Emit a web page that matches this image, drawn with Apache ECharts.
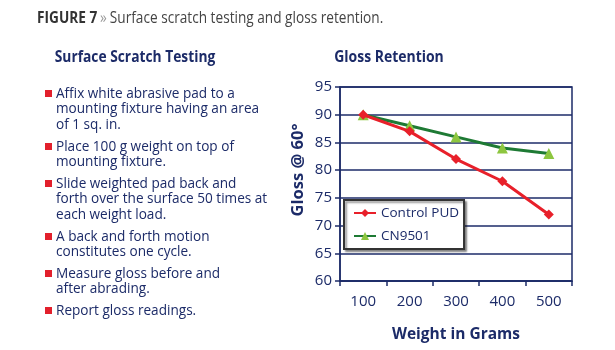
<!DOCTYPE html>
<html><head><meta charset="utf-8">
<script src="https://cdn.jsdelivr.net/npm/echarts@6/dist/echarts.min.js"></script>
<style>html,body{margin:0;padding:0;background:#fff}#c{width:615px;height:350px}</style>
</head><body><div id="c"></div>
<script>
const categories = ['100', '200', '300', '400', '500'];
const controlPUD = [90, 87, 82, 78, 72];
const cn9501 = [90, 88, 86, 84, 83];
const yTicks = [60, 65, 70, 75, 80, 85, 90, 95];
const bullets = [
  ['Affix white abrasive pad to a', 'mounting fixture having an area', 'of 1 sq. in.'],
  ['Place 100 g weight on top of', 'mounting fixture.'],
  ['Slide weighted pad back and', 'forth over the surface 50 times at', 'each weight load.'],
  ['A back and forth motion', 'constitutes one cycle.'],
  ['Measure gloss before and', 'after abrading.'],
  ['Report gloss readings.']
];
const bulletTops = [94, 147, 184, 237, 274, 311];

const NAVY = '#1c2b68';
const FONT = '"Open Sans", sans-serif';
const graphics = [];
graphics.push({type:'text', x:37, y:19, scaleX:0.88, style:{text:'{b|FIGURE 7} {g|»} {n|Surface scratch testing and gloss retention.}', verticalAlign:'middle', rich:{
  b:{font:'bold 15.5px '+FONT, fill:'#333'}, g:{font:'15.5px '+FONT, fill:'#999'}, n:{font:'15.5px '+FONT, fill:'#444'}}}});
graphics.push({type:'text', x:135, y:58, scaleX:0.89, style:{text:'Surface Scratch Testing', font:'bold 15.5px '+FONT, fill:NAVY, align:'center', verticalAlign:'middle'}});
graphics.push({type:'text', x:389, y:58, scaleX:0.9, style:{text:'Gloss Retention', font:'bold 15.5px '+FONT, fill:NAVY, align:'center', verticalAlign:'middle'}});
bullets.forEach((lines, i) => {
  const y0 = bulletTops[i];
  graphics.push({type:'rect', shape:{x:45, y:y0-4, width:7, height:7}, style:{fill:'#e2202c'}});
  lines.forEach((t, j) => {
    graphics.push({type:'text', x:56, y:y0 + j*15.5, style:{text:t, font:'13.6px '+FONT, fill:NAVY, verticalAlign:'middle'}});
  });
});
graphics.push({type:'text', x:298, y:170, rotation:Math.PI/2, style:{text:'Gloss @ 60°', font:'bold 16.5px '+FONT, fill:NAVY, align:'center', verticalAlign:'middle'}});

const chart = echarts.init(document.getElementById('c'));
chart.setOption({
  animation:false,
  textStyle:{fontFamily:FONT},
  graphic: graphics,
  grid:{left:340, right:43, top:87, height:194, show:true, borderColor:NAVY, borderWidth:1.5, backgroundColor:'transparent'},
  legend:{
    orient:'vertical', left:344, top:200,
    padding:[6,5,6,9], itemGap:9, itemWidth:22, itemHeight:10,
    backgroundColor:'#fff', borderColor:'#333', borderWidth:2,
    shadowColor:'rgba(0,0,0,0.4)', shadowOffsetX:2, shadowOffsetY:2, shadowBlur:2,
    textStyle:{color:NAVY, fontSize:13.5, fontFamily:FONT},
    data:['Control PUD','CN9501']
  },
  xAxis:{
    type:'category', data:categories, boundaryGap:true,
    name:'Weight in Grams', nameLocation:'middle', nameGap:46,
    nameTextStyle:{color:NAVY, fontWeight:'bold', fontSize:15.5, fontFamily:FONT},
    axisLine:{lineStyle:{color:NAVY, width:1.5}},
    axisTick:{show:true, length:5, lineStyle:{color:NAVY, width:1.5}},
    axisLabel:{color:NAVY, fontSize:15, margin:13, fontFamily:FONT}
  },
  yAxis:{
    type:'value', min:60, max:95, interval:5,
    axisLine:{show:true, lineStyle:{color:NAVY, width:1.5}},
    axisTick:{show:true, length:5, lineStyle:{color:NAVY, width:1.5}},
    axisLabel:{color:NAVY, fontSize:15, margin:8, fontFamily:FONT},
    splitLine:{show:true, lineStyle:{color:NAVY, width:1.5}}
  },
  series:[
    {name:'Control PUD', type:'line', data:controlPUD, z:3,
      lineStyle:{color:'#e8202a', width:3}, itemStyle:{color:'#e8202a'},
      symbol:'diamond', symbolSize:10},
    {name:'CN9501', type:'line', data:cn9501, z:2,
      lineStyle:{color:'#1e7a34', width:3}, itemStyle:{color:'#8dc63f'},
      symbol:'triangle', symbolSize:11}
  ]
});
</script></body></html>
